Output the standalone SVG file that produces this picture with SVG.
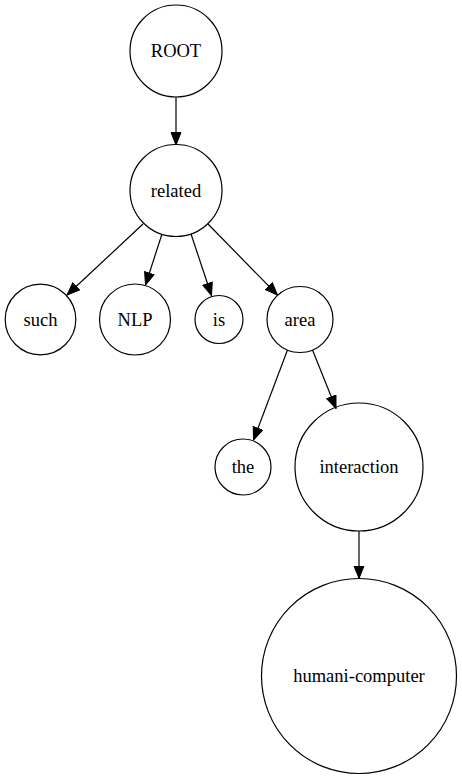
<svg xmlns="http://www.w3.org/2000/svg" width="462" height="779" viewBox="0 0 462 779">
<style>
.node circle{fill:none;stroke:#000;stroke-width:1.2}
.node text{font-family:"Liberation Serif","Times New Roman",serif;font-size:18.5px;text-anchor:middle;fill:#000}
.edge line{stroke:#000;stroke-width:1.2;marker-end:url(#arrow)}
</style>
<defs>
<marker id="arrow" markerUnits="userSpaceOnUse" markerWidth="14" markerHeight="12" refX="13" refY="5.5" orient="auto">
<path d="M0.5,0.5 L13,5.5 L0.5,10.5 z" fill="#000" stroke="#000" stroke-width="1"/>
</marker>
</defs>
<rect width="462" height="779" fill="#fff"/>
<g id="edges" class="edge">
<line x1="176" y1="97" x2="176" y2="145"/>
<line x1="143" y1="224" x2="67" y2="295"/>
<line x1="162" y1="234" x2="145.5" y2="285"/>
<line x1="191" y1="234" x2="211.5" y2="295.5"/>
<line x1="208" y1="224" x2="277.5" y2="295"/>
<line x1="287.5" y1="350" x2="253.5" y2="440"/>
<line x1="312.5" y1="350" x2="336" y2="408.5"/>
<line x1="359" y1="531" x2="359" y2="578.5"/>
</g>
<g id="n_root" class="node"><circle cx="176" cy="51" r="46"/><text x="176" y="57">ROOT</text></g>
<g id="n_related" class="node"><circle cx="176" cy="190.5" r="46"/><text x="176" y="196.5">related</text></g>
<g id="n_such" class="node"><circle cx="40.5" cy="319.5" r="35.3"/><text x="40.5" y="325.5">such</text></g>
<g id="n_nlp" class="node"><circle cx="135" cy="319.5" r="35.5"/><text x="135" y="325.5">NLP</text></g>
<g id="n_is" class="node"><circle cx="219" cy="319.5" r="24"/><text x="219" y="325.5">is</text></g>
<g id="n_area" class="node"><circle cx="300" cy="319.5" r="33"/><text x="300" y="325.5">area</text></g>
<g id="n_the" class="node"><circle cx="243" cy="467" r="28"/><text x="243" y="473">the</text></g>
<g id="n_interaction" class="node"><circle cx="359" cy="467" r="64"/><text x="359" y="473">interaction</text></g>
<g id="n_humani" class="node"><circle cx="359" cy="676" r="97.5"/><text x="359" y="682">humani-computer</text></g>
</svg>
